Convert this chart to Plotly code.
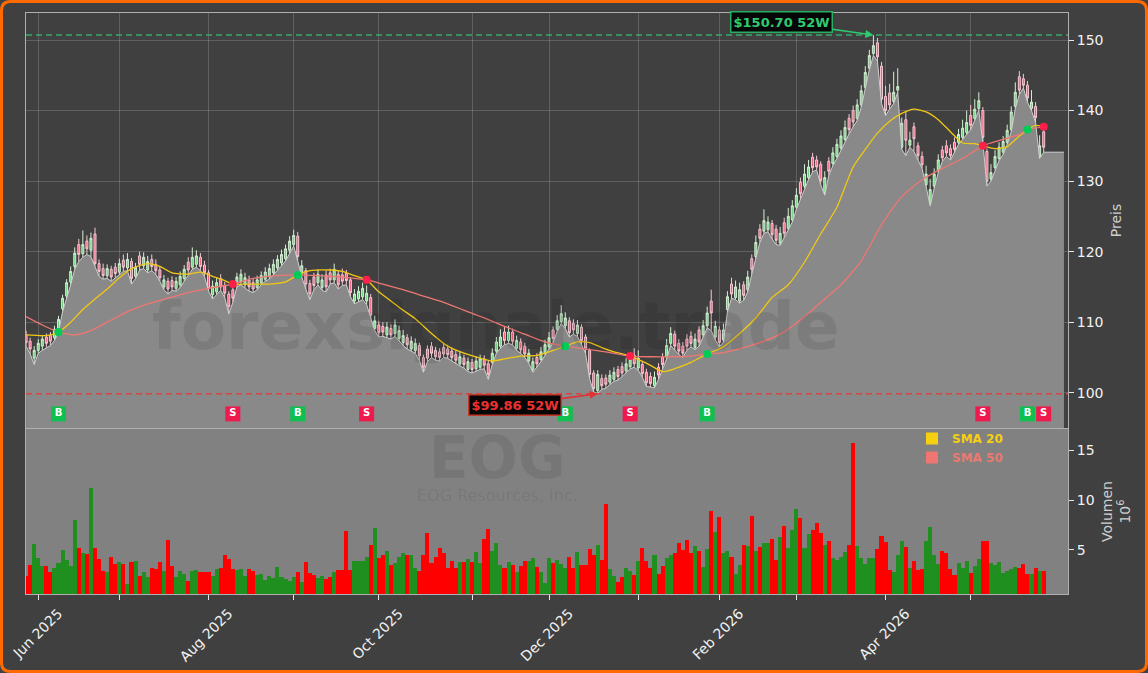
import pandas as pd
import plotly.graph_objects as go

# ---------------- data ----------------
HOLIDAYS = ["2025-06-19", "2025-07-04", "2025-09-01", "2025-11-27", "2025-12-25",
            "2026-01-01", "2026-01-19", "2026-02-16", "2026-04-03", "2026-05-25"]
trade_days = pd.bdate_range("2025-05-28", "2026-05-28", freq="C", holidays=HOLIDAYS)
dates = [d.strftime("%Y-%m-%d") for d in trade_days]
pad_days = pd.bdate_range("2026-05-29", periods=5, freq="C", holidays=HOLIDAYS)
pad_dates = [d.strftime("%Y-%m-%d") for d in pad_days]
all_dates = dates + pad_dates

open_ = [
    108.2, 107.3, 104.9, 106.0, 106.6, 107.9, 108.1, 107.8, 109.0, 111.9,
    113.7, 115.7, 117.9, 121.0, 119.7, 121.5, 120.2, 122.5, 118.3, 117.6,
    116.6, 117.5, 117.8, 117.1, 118.8, 117.7, 118.6, 116.5, 119.4, 118.0,
    117.4, 118.9, 118.2, 117.4, 115.0, 115.8, 115.9, 114.8, 115.3, 116.2,
    118.5, 117.8, 118.2, 119.2, 118.1, 117.0, 113.9, 114.3, 116.2, 115.2,
    114.0, 114.6, 115.3, 115.7, 115.3, 116.0, 115.6, 114.9, 115.6, 116.1,
    116.5, 117.0, 117.7, 118.4, 119.0, 120.2, 121.0, 122.2, 116.8, 117.3,
    115.5, 116.4, 115.6, 114.9, 116.7, 117.0, 116.0, 116.8, 116.7, 116.9,
    116.0, 113.0, 113.3, 113.6, 113.0, 113.5, 109.1, 109.6, 109.4, 108.2,
    109.1, 108.4, 107.7, 107.1, 107.8, 106.2, 106.0, 106.7, 105.0, 106.2,
    106.6, 106.0, 105.8, 106.4, 106.2, 105.9, 105.4, 104.1, 104.9, 103.3,
    104.3, 103.4, 103.6, 104.8, 104.1, 104.3, 105.9, 106.6, 108.6, 107.4,
    108.6, 106.3, 107.2, 106.6, 104.5, 103.3, 105.0, 104.7, 105.6, 106.5,
    108.9, 109.0, 110.1, 109.5, 110.2, 109.8, 108.4, 109.3, 107.9, 106.0,
    102.8, 100.3, 102.0, 102.1, 101.5, 101.9, 103.3, 103.7, 103.1, 103.7,
    105.3, 103.5, 104.0, 102.9, 102.3, 101.0, 103.6, 105.0, 105.1, 107.0,
    108.3, 107.0, 106.6, 107.6, 108.0, 106.4, 108.9, 108.2, 109.5, 113.0,
    107.9, 108.9, 107.5, 111.8, 115.4, 113.5, 113.0, 115.3, 114.6, 119.0,
    119.3, 123.2, 122.9, 123.1, 124.0, 123.2, 121.2, 124.1, 123.3, 124.5,
    126.3, 129.8, 129.3, 130.5, 133.4, 133.0, 132.4, 128.4, 132.8, 132.5,
    133.5, 134.7, 135.9, 138.9, 140.0, 138.9, 140.8, 143.3, 146.0, 148.1,
    149.6, 146.3, 142.0, 142.5, 141.3, 142.9, 134.8, 138.7, 135.1, 137.7,
    135.0, 133.5, 129.5, 126.8, 129.3, 131.5, 134.4, 135.0, 134.6, 135.5,
    135.5, 136.2, 136.9, 139.3, 138.9, 140.3, 140.0, 134.2, 130.3, 131.9,
    133.2, 134.1, 135.5, 137.3, 140.6, 144.8, 144.5, 143.6, 140.3, 140.6,
    133.5, 137.0,
]
high = [
    108.8, 107.8, 106.6, 107.6, 108.2, 108.4, 108.6, 109.5, 110.9, 113.9,
    116.1, 117.9, 120.6, 121.8, 123.0, 122.3, 122.7, 123.4, 118.9, 118.3,
    118.2, 118.0, 118.4, 119.0, 119.6, 119.8, 119.1, 118.4, 120.0, 119.9,
    119.4, 119.6, 118.9, 117.9, 116.7, 116.3, 116.5, 116.4, 117.2, 118.1,
    119.2, 120.6, 120.2, 119.8, 118.7, 117.4, 115.9, 116.3, 116.8, 115.7,
    114.4, 115.2, 117.0, 117.5, 117.0, 116.6, 116.2, 116.6, 117.2, 117.8,
    118.3, 118.9, 119.5, 120.3, 121.0, 122.2, 123.1, 122.8, 118.8, 117.7,
    116.0, 117.0, 117.5, 116.8, 117.3, 117.6, 118.3, 117.3, 117.6, 117.4,
    116.4, 114.7, 115.1, 115.6, 115.2, 114.0, 110.9, 110.2, 110.0, 110.0,
    109.7, 110.4, 109.5, 108.9, 108.3, 108.0, 107.7, 107.1, 105.4, 106.7,
    107.2, 106.5, 106.3, 107.0, 106.8, 106.4, 106.0, 105.8, 105.4, 105.0,
    104.8, 105.2, 105.4, 105.3, 104.5, 106.3, 107.9, 109.0, 109.3, 109.5,
    109.1, 108.1, 107.7, 107.1, 106.2, 105.0, 105.6, 106.5, 107.5, 108.6,
    109.4, 111.0, 112.4, 111.4, 110.7, 110.4, 110.3, 109.7, 108.3, 106.3,
    103.2, 103.2, 102.6, 102.6, 103.2, 103.6, 103.8, 104.3, 104.9, 105.6,
    106.3, 106.0, 104.5, 103.4, 102.9, 103.0, 104.2, 105.6, 107.6, 109.3,
    108.8, 107.6, 107.2, 108.3, 108.7, 108.4, 109.4, 110.3, 112.2, 114.6,
    110.2, 109.4, 109.8, 114.4, 116.3, 115.9, 115.6, 115.8, 117.3, 119.6,
    122.3, 123.9, 126.0, 125.0, 124.5, 123.8, 123.5, 124.8, 126.2, 127.3,
    129.0, 130.5, 132.4, 133.0, 134.0, 133.6, 132.8, 131.4, 133.4, 134.8,
    136.0, 137.2, 138.6, 139.5, 140.7, 141.6, 143.6, 146.3, 148.6, 150.70,
    150.3, 146.9, 143.5, 143.8, 145.5, 146.0, 139.0, 139.8, 137.0, 138.3,
    135.5, 134.2, 132.2, 130.3, 131.8, 133.8, 135.0, 135.8, 135.2, 136.2,
    137.4, 138.7, 140.0, 140.8, 141.6, 142.6, 140.5, 134.6, 132.4, 134.4,
    135.5, 136.4, 138.0, 140.6, 144.0, 145.6, 145.2, 144.2, 142.9, 141.2,
    136.5, 137.5,
]
low = [
    106.6, 105.5, 104.0, 105.6, 106.0, 106.4, 106.7, 107.4, 108.6, 111.5,
    113.3, 115.3, 117.5, 118.6, 119.2, 119.6, 119.3, 118.0, 116.5, 116.1,
    116.2, 115.8, 116.3, 116.8, 117.2, 117.3, 115.4, 116.2, 117.4, 117.6,
    117.0, 117.3, 116.8, 115.8, 114.6, 114.0, 114.5, 114.4, 114.9, 115.8,
    116.7, 117.5, 117.8, 117.3, 116.5, 114.4, 113.3, 113.9, 114.5, 113.5,
    111.2, 112.8, 115.0, 115.3, 114.9, 114.4, 114.2, 114.6, 115.3, 115.8,
    116.1, 116.7, 117.3, 118.0, 118.7, 119.8, 120.8, 118.7, 116.4, 114.7,
    113.2, 114.6, 115.3, 114.5, 114.3, 115.4, 115.6, 114.7, 115.2, 115.3,
    113.6, 112.6, 112.9, 113.2, 112.5, 110.5, 108.8, 107.9, 108.0, 107.8,
    107.6, 108.0, 107.3, 106.7, 106.2, 105.9, 105.6, 104.6, 102.9, 104.4,
    105.0, 104.6, 104.5, 105.0, 104.9, 104.5, 104.1, 103.8, 103.5, 103.0,
    102.8, 103.1, 103.3, 103.4, 101.9, 104.0, 105.6, 106.3, 106.8, 107.0,
    106.8, 106.0, 105.6, 105.0, 104.2, 102.9, 103.6, 104.4, 105.3, 106.2,
    107.1, 108.7, 109.8, 109.1, 107.9, 108.3, 108.0, 106.8, 105.6, 102.0,
    100.1, 99.86, 100.5, 100.6, 101.2, 101.6, 101.8, 102.3, 102.8, 103.4,
    103.6, 103.2, 102.2, 100.9, 100.8, 100.7, 101.9, 103.4, 104.8, 106.7,
    106.0, 105.4, 105.0, 106.0, 106.5, 106.1, 106.6, 107.9, 109.2, 108.8,
    107.5, 106.5, 107.2, 111.5, 113.4, 113.2, 112.7, 113.1, 114.3, 116.8,
    119.0, 121.3, 122.6, 122.8, 121.8, 121.0, 120.9, 122.0, 123.0, 124.2,
    126.0, 127.5, 129.0, 130.2, 131.3, 131.6, 129.5, 128.0, 130.8, 132.2,
    133.2, 134.4, 135.6, 136.7, 137.7, 138.6, 140.5, 143.0, 145.8, 147.8,
    147.0, 141.0, 139.3, 140.2, 141.0, 142.6, 134.5, 133.6, 134.8, 134.2,
    133.0, 131.8, 129.2, 126.5, 129.0, 131.2, 132.8, 133.5, 133.0, 134.0,
    135.2, 135.9, 136.6, 137.3, 138.6, 140.0, 135.5, 129.3, 130.0, 131.6,
    132.9, 133.8, 135.2, 137.0, 140.3, 142.3, 143.2, 141.2, 140.0, 138.3,
    133.2, 134.1,
]
close = [
    107.1, 106.2, 106.0, 107.0, 107.6, 107.0, 107.3, 109.0, 110.4, 113.4,
    115.6, 117.2, 119.8, 119.6, 121.0, 120.4, 121.9, 118.3, 117.2, 116.6,
    117.6, 116.4, 116.9, 118.3, 117.8, 118.9, 116.2, 117.8, 118.2, 119.2,
    118.6, 117.9, 117.3, 116.3, 116.0, 114.7, 115.0, 115.8, 116.5, 117.5,
    117.4, 119.2, 119.4, 117.9, 117.0, 114.8, 115.1, 115.6, 115.0, 114.1,
    112.2, 113.4, 116.4, 116.8, 116.3, 115.0, 114.7, 116.0, 116.6, 117.1,
    117.6, 118.2, 118.9, 119.6, 120.4, 121.5, 122.3, 119.3, 118.0, 115.4,
    114.0, 115.2, 116.8, 116.0, 115.0, 116.0, 117.5, 115.3, 115.8, 115.9,
    114.2, 114.0, 114.4, 114.8, 114.1, 111.0, 110.2, 108.5, 108.6, 109.3,
    108.2, 109.6, 108.8, 108.1, 106.8, 107.3, 107.0, 105.2, 103.6, 104.9,
    105.6, 105.1, 105.0, 105.5, 105.4, 105.0, 104.6, 105.1, 104.0, 104.4,
    103.3, 104.5, 104.8, 103.9, 102.6, 105.6, 107.2, 107.9, 107.4, 108.6,
    107.3, 107.4, 106.1, 105.5, 105.6, 104.4, 104.1, 105.8, 106.8, 107.8,
    107.7, 110.2, 111.2, 110.6, 108.5, 108.9, 109.6, 107.4, 106.3, 102.6,
    100.6, 102.6, 101.0, 101.2, 102.5, 102.9, 102.3, 102.8, 104.1, 104.8,
    104.1, 104.9, 102.7, 101.4, 101.3, 102.2, 102.5, 104.0, 106.7, 108.4,
    106.6, 105.9, 105.6, 106.6, 107.0, 107.6, 107.2, 109.5, 111.3, 111.3,
    109.4, 107.1, 108.9, 113.6, 114.0, 115.0, 114.6, 113.8, 116.4, 117.5,
    121.3, 121.9, 124.4, 124.2, 122.4, 121.6, 122.6, 122.6, 125.0, 126.5,
    128.0, 128.2, 131.0, 132.0, 131.9, 132.0, 130.1, 130.5, 131.4, 134.0,
    135.2, 136.4, 137.6, 137.3, 138.4, 140.8, 142.8, 145.4, 147.8, 149.2,
    147.6, 141.6, 140.0, 140.8, 142.6, 143.4, 138.2, 135.8, 135.8, 136.0,
    133.6, 132.3, 131.0, 128.8, 131.0, 133.0, 133.3, 134.0, 133.6, 134.5,
    136.6, 137.5, 138.3, 137.9, 140.2, 141.4, 136.2, 130.0, 131.2, 133.5,
    134.8, 135.6, 137.2, 139.8, 142.6, 142.9, 143.6, 141.8, 141.2, 139.0,
    135.0, 134.8,
]
volume_m = [
    2.37, 3.48, 5.6, 4.2, 3.4, 3.4, 2.78, 3.18, 3.69, 5.0,
    4.0, 3.4, 8.03, 5.2, 4.7, 4.6, 11.26, 5.2, 4.1, 2.88,
    2.78, 4.29, 3.59, 3.79, 3.59, 1.57, 3.79, 3.89, 2.37, 2.78,
    2.27, 3.18, 3.08, 3.79, 2.88, 6.0, 3.38, 2.27, 2.88, 2.58,
    1.87, 2.88, 2.98, 2.78, 2.78, 2.78, 2.37, 3.08, 3.18, 4.5,
    4.1, 3.08, 2.98, 3.08, 2.37, 3.08, 2.88, 2.47, 2.58, 1.97,
    2.37, 2.17, 3.28, 2.27, 2.07, 1.87, 2.27, 2.78, 1.77, 3.79,
    2.68, 2.47, 2.17, 2.37, 2.07, 2.27, 2.78, 2.98, 2.98, 6.92,
    2.98, 3.89, 3.89, 3.89, 4.29, 5.5, 7.2, 4.2, 4.49, 4.9,
    3.48, 3.69, 4.29, 4.7, 4.49, 4.49, 3.18, 2.88, 4.49, 6.7,
    3.69, 4.29, 5.2, 4.7, 3.18, 3.89, 3.18, 3.79, 3.79, 4.1,
    3.79, 4.8, 3.69, 6.1, 7.1, 4.9, 5.7, 3.48, 3.18, 3.79,
    3.48, 2.78, 3.38, 3.89, 3.89, 4.2, 3.28, 2.78, 1.67, 4.2,
    3.69, 4.0, 3.59, 3.18, 4.29, 3.18, 4.8, 3.48, 3.48, 5.1,
    4.49, 5.5, 4.0, 9.65, 3.08, 2.37, 1.77, 2.27, 3.18, 2.88,
    2.47, 3.89, 5.2, 3.89, 3.18, 4.49, 2.58, 3.38, 4.2, 4.49,
    4.7, 5.7, 5.0, 6.0, 4.7, 5.4, 4.9, 3.28, 5.1, 8.94,
    6.8, 8.3, 4.7, 4.9, 4.29, 2.58, 3.48, 5.5, 5.4, 8.4,
    4.9, 5.3, 5.7, 5.7, 6.1, 4.0, 6.3, 7.4, 5.2, 7.0,
    9.1, 8.2, 5.2, 6.6, 7.0, 7.7, 6.7, 5.5, 5.9, 4.2,
    4.0, 4.3, 4.8, 5.5, 15.8, 5.4, 4.2, 3.6, 4.2, 4.2,
    5.1, 6.4, 5.8, 2.98, 2.78, 4.5, 5.9, 5.3, 3.18, 3.89,
    2.98, 3.08, 5.9, 7.3, 4.5, 3.6, 4.9, 4.7, 3.08, 2.47,
    3.69, 3.18, 3.89, 2.68, 3.38, 4.1, 5.9, 5.9, 3.69, 3.48,
    3.79, 2.68, 2.88, 3.08, 3.28, 3.18, 3.59, 2.58, 2.58, 3.18,
    2.88, 2.88,
]
assert all(len(a) == len(dates) for a in (open_, high, low, close, volume_m)), len(dates)

# moving averages (sample day -> value)
sma20_idx = [0, 5, 8, 11, 14, 17, 20, 23, 26, 30, 33, 36, 40, 43, 46, 49, 51, 55, 60, 64,
             67, 70, 75, 78, 81, 84, 87, 90, 93, 96, 100, 104, 108, 112, 115, 118, 122, 126, 130, 133,
             136, 139, 142, 145, 149, 153, 157, 160, 164, 168, 172, 176, 180, 184, 188, 192, 196, 200, 204, 207,
             210, 213, 216, 219, 222, 225, 228, 231, 234, 236, 239, 242, 245, 247, 249, 251]
sma20_val = [108.2, 108.1, 108.6, 110.0, 111.8, 113.3, 114.7, 116.3, 117.6, 118.3,
             117.9, 117.0, 116.8, 117.1, 116.5, 115.9, 115.4, 115.4, 115.4, 115.7,
             116.7, 117.3, 117.4, 117.2, 116.6, 116.0, 114.3, 113.0, 111.7, 110.5,
             108.4, 106.6, 105.6, 104.9, 104.5, 104.8, 105.2, 105.3, 106.0, 106.6,
             107.2, 107.1, 106.4, 105.8, 105.2, 104.2, 103.0, 103.4, 104.3, 105.5,
             106.5, 108.4, 110.6, 113.5, 115.3, 118.5, 122.5, 126.3, 132.0, 134.5,
             136.8, 138.5, 139.6, 140.2, 139.8, 138.7, 137.0, 135.4, 135.3, 135.0,
             134.6, 134.9, 136.4, 137.3, 137.9, 137.7]
sma50_idx = [0, 4, 8, 12, 16, 20, 25, 30, 35, 40, 45, 51, 56, 62, 67, 72, 78, 84, 88, 93,
             98, 103, 108, 113, 118, 123, 128, 133, 138, 143, 149, 154, 159, 164, 168, 172, 177, 182, 186, 191,
             196, 201, 206, 211, 216, 221, 226, 231, 236, 241, 245, 247, 251]
sma50_val = [110.8, 109.6, 108.6, 108.2, 108.8, 110.0, 111.5, 112.6, 113.4, 114.2,
             114.8, 115.4, 116.2, 116.6, 116.7, 116.6, 116.4, 116.0, 115.4, 114.6,
             113.7, 112.8, 111.7, 110.6, 109.4, 108.3, 107.2, 106.6, 106.2, 105.8,
             105.2, 105.1, 105.1, 105.2, 105.5, 105.7, 106.4, 107.3, 108.3, 110.3,
             112.8, 115.3, 118.7, 123.8, 127.8, 130.2, 131.8, 133.2, 135.0, 135.9,
             136.6, 137.3, 137.7]

# SMA crossover signals (day index, SMA value at the cross)
buy_idx = [8, 67, 133, 168, 247]
buy_val = [108.6, 116.7, 106.6, 105.5, 137.3]
sell_idx = [51, 84, 149, 236, 251]
sell_val = [115.4, 116.0, 105.2, 135.0, 137.7]
signal_label_level = 97.0

ticker = "EOG"
company = "EOG Resources, Inc."

# ---------------- derived ----------------
hi_i = max(range(len(high)), key=lambda i: high[i])
lo_i = min(range(len(low)), key=lambda i: low[i])
high_52w, low_52w = high[hi_i], low[lo_i]

month_first = {}
for d in trade_days:
    key = (d.year, d.month)
    if key not in month_first:
        month_first[key] = d
all_month_ticks, major_vals, major_text, minor_vals = [], [], [], []
for (y, m), d in month_first.items():
    if (y, m) < (2025, 6):
        continue
    s = d.strftime("%Y-%m-%d")
    all_month_ticks.append(s)
    if m % 2 == 0:
        major_vals.append(s)
        major_text.append(d.strftime("%b %Y"))
    else:
        minor_vals.append(s)

GREEN_VOL = "#1f8f1f"
RED_VOL = "#ff0000"
vol_colors = [GREEN_VOL if c >= o else RED_VOL for o, c in zip(open_, close)]

FONT = "DejaVu Sans"
GRID = "rgba(255,255,255,0.17)"
SPINE = "#b0b0b0"
TICKC = "#e6e6e6"

fig = go.Figure()

# low-price area
fig.add_trace(go.Scatter(
    x=all_dates, y=low + [low[-1]] * len(pad_dates), mode="lines",
    line=dict(color="rgba(212,212,212,0.95)", width=1),
    fill="tozeroy", fillcolor="#898989", hoverinfo="skip", showlegend=False,
    xaxis="x", yaxis="y"))

fig.add_trace(go.Candlestick(
    x=dates, open=open_, high=high, low=low, close=close,
    increasing=dict(line=dict(color="#d2eed2", width=1), fillcolor="#6fd07f"),
    decreasing=dict(line=dict(color="#f4c8d2", width=1), fillcolor="#ee5f80"),
    whiskerwidth=0, showlegend=False, hoverinfo="skip", xaxis="x", yaxis="y"))

fig.add_trace(go.Scatter(
    x=[dates[i] for i in sma20_idx], y=sma20_val, mode="lines",
    line=dict(color="#f0c814", width=1.3, shape="spline", smoothing=0.6),
    showlegend=False, hoverinfo="skip", xaxis="x", yaxis="y"))
fig.add_trace(go.Scatter(
    x=[dates[i] for i in sma50_idx], y=sma50_val, mode="lines",
    line=dict(color="#ef7772", width=1.3, shape="spline", smoothing=0.6),
    showlegend=False, hoverinfo="skip", xaxis="x", yaxis="y"))

# crossover dots
fig.add_trace(go.Scatter(
    x=[dates[i] for i in buy_idx], y=buy_val, mode="markers",
    marker=dict(color="#00cc55", size=8), showlegend=False, hoverinfo="skip",
    xaxis="x", yaxis="y"))
fig.add_trace(go.Scatter(
    x=[dates[i] for i in sell_idx], y=sell_val, mode="markers",
    marker=dict(color="#ff1f4b", size=8), showlegend=False, hoverinfo="skip",
    xaxis="x", yaxis="y"))

# B / S labels
fig.add_trace(go.Scatter(
    x=[dates[i] for i in buy_idx], y=[signal_label_level] * len(buy_idx),
    mode="markers+text", text=["<b>B</b>"] * len(buy_idx),
    textposition="middle center", textfont=dict(color="white", size=10, family=FONT),
    marker=dict(symbol="square", size=15, color="#0fbf4f"),
    showlegend=False, hoverinfo="skip", xaxis="x", yaxis="y"))
fig.add_trace(go.Scatter(
    x=[dates[i] for i in sell_idx], y=[signal_label_level] * len(sell_idx),
    mode="markers+text", text=["<b>S</b>"] * len(sell_idx),
    textposition="middle center", textfont=dict(color="white", size=10, family=FONT),
    marker=dict(symbol="square", size=15, color="#ee1a4e"),
    showlegend=False, hoverinfo="skip", xaxis="x", yaxis="y"))

# volume
fig.add_trace(go.Bar(
    x=dates, y=volume_m, marker=dict(color=vol_colors, line=dict(width=0)),
    width=1.0, showlegend=False, hoverinfo="skip", xaxis="x2", yaxis="y2"))

# carrier for the unlabeled (odd-month) tick marks
fig.add_trace(go.Scatter(
    x=[dates[0]], y=[None], mode="lines", showlegend=False, hoverinfo="skip",
    xaxis="x3", yaxis="y2"))

# legend entries (square handles)
fig.add_trace(go.Scatter(
    x=[None], y=[None], mode="markers",
    marker=dict(symbol="square", size=11, color="#f5cf10"),
    name='<b><span style="color:#f5cf10">SMA 20</span></b>', xaxis="x2", yaxis="y2"))
fig.add_trace(go.Scatter(
    x=[None], y=[None], mode="markers",
    marker=dict(symbol="square", size=11, color="#ee7570"),
    name='<b><span style="color:#ea7a70">SMA 50</span></b>', xaxis="x2", yaxis="y2"))

# ---------------- layout ----------------
W, H = 1148, 673
L, R, T, B = 26, 80, 13, 79
PW, PH = W - L - R, H - T - B


def px_x(px):
    return (px - L) / PW


def px_y(py):
    return (H - B - py) / PH


price_dom = [px_y(428), 1.0]
vol_dom = [0.0, px_y(429)]
cat_axis = dict(type="category", categoryorder="array", categoryarray=all_dates)

fig.update_layout(
    width=W, height=H, margin=dict(l=L, r=R, t=T, b=B, autoexpand=False),
    paper_bgcolor="#404040", plot_bgcolor="#404040",
    font=dict(family=FONT, color="#eeeeee", size=14),
    bargap=0, showlegend=True,
    legend=dict(x=px_x(912), y=px_y(424), xanchor="left", yanchor="top",
                bgcolor="rgba(0,0,0,0)", font=dict(size=12, family=FONT),
                tracegroupgap=0, itemsizing="constant"),
    xaxis=dict(domain=[0, 1], anchor="y", **cat_axis,
               range=[-0.02, 257.0], rangeslider=dict(visible=False),
               tickvals=all_month_ticks, showticklabels=False,
               ticks="", showgrid=True, gridcolor=GRID, gridwidth=1,
               showline=True, linecolor=SPINE, linewidth=1, mirror=True,
               zeroline=False, automargin=False),
    yaxis=dict(domain=price_dom, anchor="x", side="right",
               range=[95.0, 153.83], tickvals=[100, 110, 120, 130, 140, 150],
               ticks="outside", ticklen=5, tickcolor=TICKC,
               tickfont=dict(size=14, color="#f2f2f2"),
               showgrid=True, gridcolor=GRID, gridwidth=1, zeroline=False,
               showline=True, linecolor=SPINE, linewidth=1, mirror=True,
               title=dict(text="Preis", font=dict(size=14, color="#cfcfcf"), standoff=8),
               automargin=False),
    xaxis2=dict(domain=[0, 1], anchor="y2", **cat_axis, matches="x",
                tickvals=major_vals, ticktext=major_text, tickangle=-45,
                ticklabelshift=20,
                ticks="outside", ticklen=5, tickcolor=TICKC,
                tickfont=dict(size=14, color="#f2f2f2"),
                showgrid=False, showline=True, linecolor=SPINE, linewidth=1, mirror=True,
                zeroline=False, automargin=False),
    xaxis3=dict(domain=[0, 1], anchor="y2", overlaying="x2", **cat_axis, matches="x",
                tickvals=minor_vals, showticklabels=False,
                ticks="outside", ticklen=5, tickcolor=TICKC,
                showgrid=False, showline=False, zeroline=False, automargin=False),
    yaxis2=dict(domain=vol_dom, anchor="x2", side="right",
                range=[0.56, 17.17], tickvals=[5, 10, 15],
                ticks="outside", ticklen=5, tickcolor=TICKC,
                tickfont=dict(size=14, color="#f2f2f2"),
                showgrid=False, zeroline=False,
                showline=True, linecolor=SPINE, linewidth=1, mirror=True,
                title=dict(text="Volumen<br>10<sup>6</sup>", font=dict(size=14, color="#cfcfcf"),
                           standoff=8),
                automargin=False),
)

# rounded orange frame
xl, xr = px_x(1.5), px_x(W - 1.5)
yt, yb = px_y(1.5), px_y(H - 1.5)
rx, ry = 9 / PW, 9 / PH
frame = (f"M {xl+rx},{yt} L {xr-rx},{yt} Q {xr},{yt} {xr},{yt-ry} "
         f"L {xr},{yb+ry} Q {xr},{yb} {xr-rx},{yb} L {xl+rx},{yb} "
         f"Q {xl},{yb} {xl},{yb+ry} L {xl},{yt-ry} Q {xl},{yt} {xl+rx},{yt} Z")

fig.update_layout(shapes=[
    dict(type="rect", xref="x2 domain", yref="y2 domain", x0=0, x1=1, y0=0, y1=1,
         fillcolor="#818181", line=dict(width=0), layer="below"),
    dict(type="line", xref="x domain", yref="y", x0=0, x1=1, y0=high_52w, y1=high_52w,
         line=dict(color="#3aa86a", width=1.5, dash="6px,4px")),
    dict(type="line", xref="x domain", yref="y", x0=0, x1=1, y0=low_52w, y1=low_52w,
         line=dict(color="#d64545", width=1.5, dash="6px,4px")),
    dict(type="path", xref="paper", yref="paper", path=frame,
         line=dict(color="#ff6a00", width=3), layer="above"),
])

fig.update_layout(annotations=[
    dict(xref="paper", yref="paper", x=px_x(496), y=px_y(326), showarrow=False,
         text="<b>forexsignale.trade</b>", xanchor="center", yanchor="middle",
         font=dict(size=66, color="rgba(0,0,0,0.09)", family=FONT)),
    dict(xref="paper", yref="paper", x=px_x(497), y=px_y(458), showarrow=False,
         text=f"<b>{ticker}</b>", xanchor="center", yanchor="middle",
         font=dict(size=58, color="rgba(0,0,0,0.08)", family=FONT)),
    dict(xref="paper", yref="paper", x=px_x(497), y=px_y(495), showarrow=False,
         text=company, xanchor="center", yanchor="middle",
         font=dict(size=16, color="rgba(0,0,0,0.08)", family=FONT)),
    dict(xref="x", yref="y", x=dates[hi_i], y=high_52w, text=f"<b>${high_52w:.2f} 52W</b>",
         showarrow=True, ax=-92, ay=-13, arrowhead=2, arrowsize=1, arrowwidth=1.6,
         arrowcolor="#2ecc71", bgcolor="#060606", bordercolor="#27ae60", borderwidth=1.5,
         borderpad=2, font=dict(size=13, color="#2ecc71", family=FONT)),
    dict(xref="x", yref="y", x=dates[lo_i], y=low_52w, text=f"<b>${low_52w:.2f} 52W</b>",
         showarrow=True, ax=-83, ay=11, arrowhead=2, arrowsize=1, arrowwidth=1.6,
         arrowcolor="#e03333", bgcolor="#060606", bordercolor="#c0392b", borderwidth=1.5,
         borderpad=2, font=dict(size=13, color="#ee3030", family=FONT)),
])

fig.write_html("out.html")
